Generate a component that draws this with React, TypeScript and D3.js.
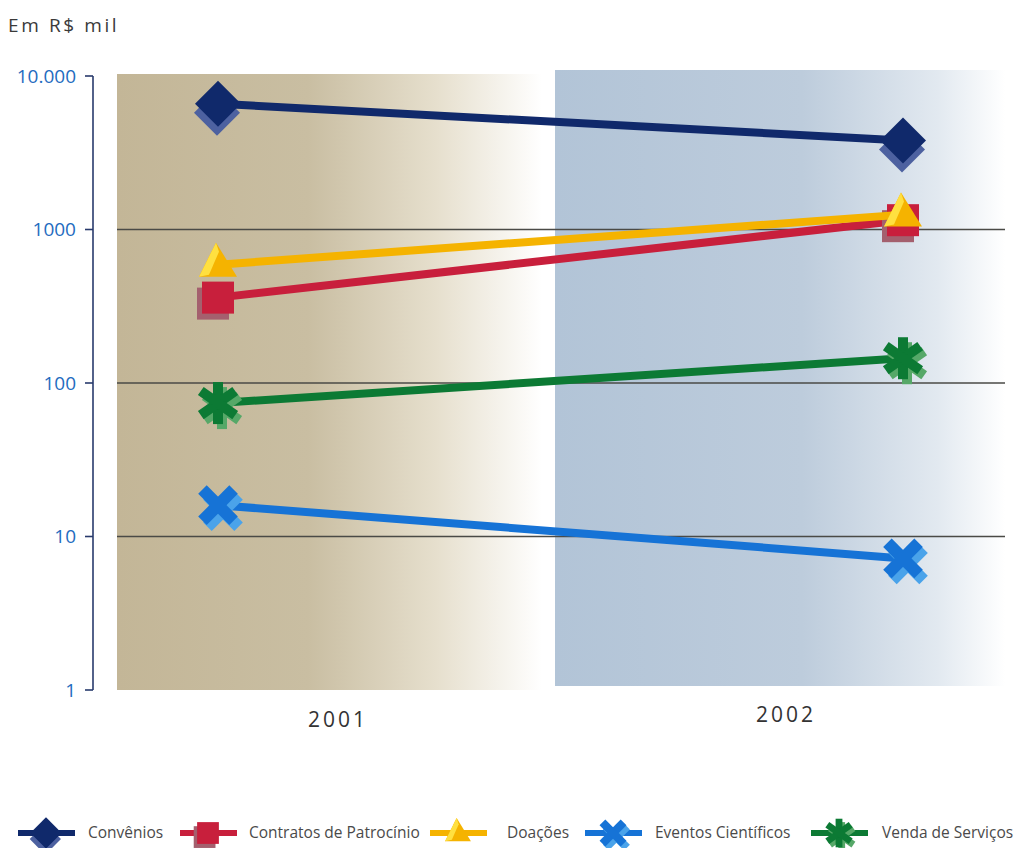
import React from 'react';
import * as d3 from 'd3';

const years = [2001, 2002];
const yearLabels = ['2001', '2002'];
const seriesNames = ['Convênios', 'Contratos de Patrocínio', 'Doações', 'Eventos Científicos', 'Venda de Serviços'];
const convenios = [6600, 3800];
const contratos = [360, 1150];
const doacoes = [590, 1250];
const eventos = [16, 7.2];
const vendas = [74, 145];
const yTicks = [1, 10, 100, 1000, 10000];
const yTickLabels = ['1', '10', '100', '1000', '10.000'];

const W = 1015;
const H = 848;

type Kind = 'diamond' | 'square' | 'triangle' | 'x' | 'asterisk';

const styles: { kind: Kind; color: string; shade: string }[] = [
  { kind: 'diamond', color: '#10296b', shade: '#4d61a0' },
  { kind: 'square', color: '#c81f3c', shade: '#a4606e' },
  { kind: 'triangle', color: '#f5b300', shade: '#ffe040' },
  { kind: 'x', color: '#1673d6', shade: '#4aa3ea' },
  { kind: 'asterisk', color: '#0c7a34', shade: '#56a868' },
];

const values = [convenios, contratos, doacoes, eventos, vendas];

function Marker({ kind, x, y, color, shade, s }: { kind: Kind; x: number; y: number; color: string; shade: string; s: number }) {
  if (kind === 'diamond') {
    const r = 23 * s;
    const d = (dx: number, dy: number) =>
      `M${x + dx},${y - r + dy}L${x + r + dx},${y + dy}L${x + dx},${y + r + dy}L${x - r + dx},${y + dy}Z`;
    return (
      <g>
        <path d={d(-1 * s, 9 * s)} fill={shade} />
        <path d={d(0, 0)} fill={color} />
      </g>
    );
  }
  if (kind === 'square') {
    const h = 16 * s;
    return (
      <g>
        <rect x={x - h - 5 * s} y={y - h + 6 * s} width={2 * h} height={2 * h} fill={shade} />
        <rect x={x - h} y={y - h} width={2 * h} height={2 * h} fill={color} />
      </g>
    );
  }
  if (kind === 'triangle') {
    const hw = 19 * s;
    const top = y - 22 * s;
    const base = y + 12 * s;
    return (
      <g>
        <path d={`M${x - 2 * s},${top}L${x + hw},${base}L${x - hw},${base}Z`} fill={color} />
        <path d={`M${x - 2 * s},${top}L${x + 1 * s},${top + 9 * s}L${x - hw + 10 * s},${base - 2 * s}L${x - hw},${base}Z`} fill={shade} />
      </g>
    );
  }
  if (kind === 'x') {
    const L = 22 * s;
    const w = 12 * s;
    const bars = (dx: number, dy: number, c: string) => (
      <g fill={c}>
        <rect x={x - w / 2 + dx} y={y - L + dy} width={w} height={2 * L} transform={`rotate(45 ${x + dx} ${y + dy})`} />
        <rect x={x - w / 2 + dx} y={y - L + dy} width={w} height={2 * L} transform={`rotate(-45 ${x + dx} ${y + dy})`} />
      </g>
    );
    return (
      <g>
        {bars(5 * s, 6 * s, shade)}
        {bars(0, 0, color)}
      </g>
    );
  }
  const L = 21 * s;
  const w = 10 * s;
  const bars = (dx: number, dy: number, c: string) => (
    <g fill={c}>
      {[0, 55, -55].map((a) => (
        <rect key={a} x={x - w / 2 + dx} y={y - L + dy} width={w} height={2 * L} transform={`rotate(${a} ${x + dx} ${y + dy})`} />
      ))}
    </g>
  );
  return (
    <g>
      {bars(4 * s, 5 * s, shade)}
      {bars(0, 0, color)}
    </g>
  );
}

export default function App() {
  const y = d3.scaleLog().domain([1, 10000]).range([690, 76]);
  const x = d3.scaleLinear().domain([years[0], years[1]]).range([218, 903]);

  const legendX = [18, 180, 430, 585, 811];
  const legendTextX = [88, 249, 507, 655, 882];
  const legendY = 833;
  const font = "'Open Sans', sans-serif";

  return (
    <svg width={W} height={H} style={{ position: 'absolute', left: 0, top: 0, background: '#fff' }}>
      <defs>
        <linearGradient id="g2001" x1="0" x2="1" y1="0" y2="0">
          <stop offset="0" stopColor="#c3b697" />
          <stop offset="0.45" stopColor="#c9bea2" />
          <stop offset="0.75" stopColor="#e6dfcd" />
          <stop offset="1" stopColor="#ffffff" />
        </linearGradient>
        <linearGradient id="g2002" x1="0" x2="1" y1="0" y2="0">
          <stop offset="0" stopColor="#b2c4d7" />
          <stop offset="0.55" stopColor="#bdccdc" />
          <stop offset="0.85" stopColor="#e2e9f0" />
          <stop offset="1" stopColor="#ffffff" />
        </linearGradient>
      </defs>

      <text x={8} y={32} fontFamily={font} fontSize={19} fill="#3a3a3a" letterSpacing={2.6}>
        Em R$ mil
      </text>

      <rect x={117} y={y(10000) - 2} width={425} height={y(1) - y(10000) + 2} fill="url(#g2001)" />
      <rect x={555} y={y(10000) - 6} width={450} height={y(1) - y(10000) + 2} fill="url(#g2002)" />

      {yTicks.filter((t) => t > 1 && t < 10000).map((t) => (
        <line key={t} x1={117} x2={1005} y1={y(t)} y2={y(t)} stroke="#4a4a46" strokeWidth={1.6} />
      ))}

      <line x1={93} x2={93} y1={y(10000)} y2={y(1)} stroke="#283a6c" strokeWidth={1.6} />
      {yTicks.map((t, i) => (
        <g key={t}>
          <line x1={85} x2={93} y1={y(t)} y2={y(t)} stroke="#283a6c" strokeWidth={1.6} />
          <text x={76} y={y(t)} dy="0.35em" textAnchor="end" fontFamily={font} fontSize={19} fill="#1f6cc0">
            {yTickLabels[i]}
          </text>
        </g>
      ))}

      <text x={338} y={727} textAnchor="middle" fontFamily={font} fontSize={21} fill="#333" letterSpacing={3}>
        {yearLabels[0]}
      </text>
      <text x={786} y={722} textAnchor="middle" fontFamily={font} fontSize={21} fill="#333" letterSpacing={3}>
        {yearLabels[1]}
      </text>

      {values.map((vals, i) => (
        <g key={seriesNames[i]}>
          <line
            x1={x(years[0])}
            y1={y(vals[0])}
            x2={x(years[1])}
            y2={y(vals[1])}
            stroke={styles[i].color}
            strokeWidth={8}
          />
          {vals.map((v, j) => (
            <Marker key={j} kind={styles[i].kind} x={x(years[j])} y={y(v)} color={styles[i].color} shade={styles[i].shade} s={1} />
          ))}
        </g>
      ))}

      {seriesNames.map((name, i) => (
        <g key={name}>
          <line x1={legendX[i]} x2={legendX[i] + 57} y1={legendY} y2={legendY} stroke={styles[i].color} strokeWidth={6} />
          <Marker kind={styles[i].kind} x={legendX[i] + 28} y={legendY} color={styles[i].color} shade={styles[i].shade} s={0.68} />
          <text x={legendTextX[i]} y={legendY} dy="0.35em" fontFamily={font} fontSize={15.5} fill="#4a4a4a">
            {name}
          </text>
        </g>
      ))}
    </svg>
  );
}
